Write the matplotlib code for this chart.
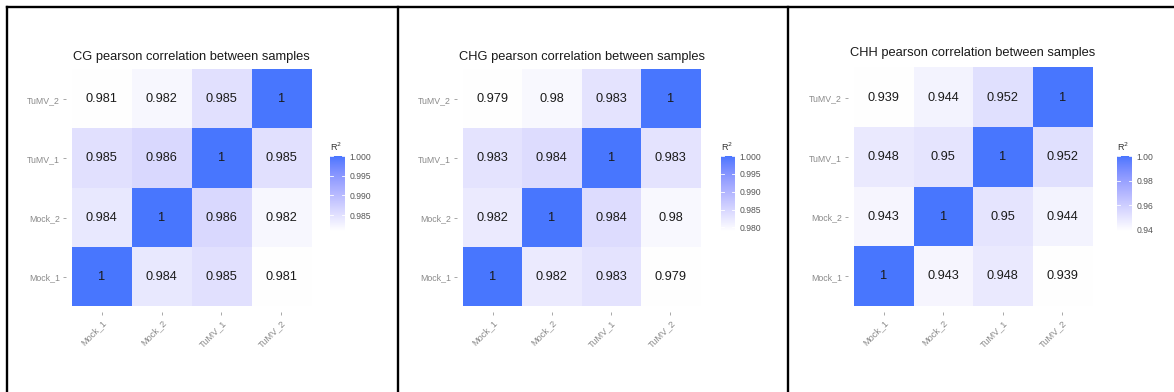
import matplotlib
matplotlib.use("Agg")
import matplotlib.pyplot as plt
from matplotlib.colors import ListedColormap, Normalize, to_rgb
from matplotlib.cm import ScalarMappable
from matplotlib.lines import Line2D
import numpy as np

plt.rcParams['font.family'] = ['Liberation Sans', 'DejaVu Sans']

samples = ["Mock_1", "Mock_2", "TuMV_1", "TuMV_2"]

# rows listed bottom-to-top (Mock_1 ... TuMV_2), columns left-to-right
cg_r2 = [
    ["1", "0.984", "0.985", "0.981"],
    ["0.984", "1", "0.986", "0.982"],
    ["0.985", "0.986", "1", "0.985"],
    ["0.981", "0.982", "0.985", "1"],
]
chg_r2 = [
    ["1", "0.982", "0.983", "0.979"],
    ["0.982", "1", "0.984", "0.98"],
    ["0.983", "0.984", "1", "0.983"],
    ["0.979", "0.98", "0.983", "1"],
]
chh_r2 = [
    ["1", "0.943", "0.948", "0.939"],
    ["0.943", "1", "0.95", "0.944"],
    ["0.948", "0.95", "1", "0.952"],
    ["0.939", "0.944", "0.952", "1"],
]

titles = ["CG pearson correlation between samples",
          "CHG pearson correlation between samples",
          "CHH pearson correlation between samples"]
matrices = [cg_r2, chg_r2, chh_r2]
cbar_ticks = [[0.985, 0.990, 0.995, 1.000],
              [0.980, 0.985, 0.990, 0.995, 1.000],
              [0.94, 0.96, 0.98, 1.00]]
cbar_fmt = ["{:.3f}", "{:.3f}", "{:.2f}"]

W, H = 1174, 392
fig = plt.figure(figsize=(W / 100, H / 100), dpi=100)
fig.patch.set_facecolor("white")


# white -> royal blue gradient interpolated in CIELAB space
def srgb_to_lab(rgb):
    c = np.asarray(rgb, float)
    lin = np.where(c <= 0.04045, c / 12.92, ((c + 0.055) / 1.055) ** 2.4)
    M = np.array([[0.4124, 0.3576, 0.1805],
                  [0.2126, 0.7152, 0.0722],
                  [0.0193, 0.1192, 0.9505]])
    xyz = M @ lin / np.array([0.95047, 1.0, 1.08883])
    f = np.where(xyz > 216 / 24389, np.cbrt(xyz), (24389 / 27 * xyz + 16) / 116)
    return np.array([116 * f[1] - 16, 500 * (f[0] - f[1]), 200 * (f[1] - f[2])])


def lab_to_srgb(lab):
    L, a, b = lab
    fy = (L + 16) / 116
    fx = fy + a / 500
    fz = fy - b / 200
    f = np.array([fx, fy, fz])
    xyz = np.where(f ** 3 > 216 / 24389, f ** 3, (116 * f - 16) / (24389 / 27))
    xyz = xyz * np.array([0.95047, 1.0, 1.08883])
    Minv = np.array([[3.2406, -1.5372, -0.4986],
                     [-0.9689, 1.8758, 0.0415],
                     [0.0557, -0.2040, 1.0570]])
    lin = Minv @ xyz
    lin = np.clip(lin, 0, 1)
    c = np.where(lin <= 0.0031308, 12.92 * lin, 1.055 * lin ** (1 / 2.4) - 0.055)
    return np.clip(c, 0, 1)


lab_lo = srgb_to_lab(to_rgb("#ffffff"))
lab_hi = srgb_to_lab(to_rgb("#4876ff"))
ramp = [lab_to_srgb(lab_lo + t * (lab_hi - lab_lo)) for t in np.linspace(0, 1, 256)]
cmap = ListedColormap(ramp, name="r2")


def px_rect(x0, y0, x1, y1):
    return [x0 / W, 1 - y1 / H, (x1 - x0) / W, (y1 - y0) / H]


# panel geometry in pixels: heatmap axes box, title position, colorbar box
panels = [
    dict(ax=(66, 64, 317, 312), title=(191, 57), cb=(330, 156, 345, 231)),
    dict(ax=(457, 64, 706, 312), title=(582, 57), cb=(721, 156, 735, 231)),
    dict(ax=(848, 62, 1098, 312), title=(973, 53), cb=(1117, 156, 1132, 231)),
]

for mat, title, ticks, fmt, geo in zip(matrices, titles, cbar_ticks, cbar_fmt, panels):
    vals = np.array([[float(v) for v in row] for row in mat])
    norm = Normalize(vmin=vals.min(), vmax=vals.max())

    ax = fig.add_axes(px_rect(*geo["ax"]))
    ax.imshow(vals, cmap=cmap, norm=norm, origin="lower",
              extent=(-0.5, 3.5, -0.5, 3.5), interpolation="nearest")
    ax.set_xlim(-0.6, 3.6)
    ax.set_ylim(-0.6, 3.6)
    ax.set_aspect("auto")
    for i in range(4):
        for j in range(4):
            ax.text(j, i, mat[i][j], ha="center", va="center",
                    fontsize=9.2, color="#1a1a1a")
    ax.set_xticks(range(4))
    ax.set_yticks(range(4))
    ax.set_xticklabels(samples, rotation=45, ha="right", va="top",
                       rotation_mode="anchor", fontsize=6.6, color="#8a8a8a")
    ax.set_yticklabels(samples, fontsize=6.3, color="#8a8a8a")
    ax.tick_params(length=2.5, width=0.6, color="#9a9a9a", pad=2)
    for s in ax.spines.values():
        s.set_visible(False)

    tx, ty = geo["title"]
    fig.text(tx / W, 1 - ty / H, title, ha="center", va="center",
             fontsize=9.3, color="#1a1a1a")

    cax = fig.add_axes(px_rect(*geo["cb"]))
    cb = fig.colorbar(ScalarMappable(norm=norm, cmap=cmap), cax=cax,
                      orientation="vertical")
    cb.outline.set_visible(False)
    cb.set_ticks(ticks)
    cb.set_ticklabels([fmt.format(t) for t in ticks])
    cax.tick_params(length=0, labelsize=6.2, labelcolor="#555555", pad=3)
    for t in ticks:
        cax.plot([0, 0.2], [t, t], color="white", lw=0.6)
        cax.plot([0.8, 1.0], [t, t], color="white", lw=0.6)
    cx0, cy0, cx1, cy1 = geo["cb"]
    fig.text(cx0 / W, 1 - (cy0 - 9) / H, "R$^2$", ha="left", va="center",
             fontsize=6.5, color="#333333")

# frame lines around and between the panels
for x in (6.5, 397.5, 787.5):
    fig.add_artist(Line2D([x / W, x / W], [0, 1 - 6.5 / H], color="black", lw=1.7))
fig.add_artist(Line2D([6.5 / W, 1], [1 - 6.5 / H, 1 - 6.5 / H], color="black", lw=1.7))

fig.savefig("out.png", dpi=100, facecolor="white")
